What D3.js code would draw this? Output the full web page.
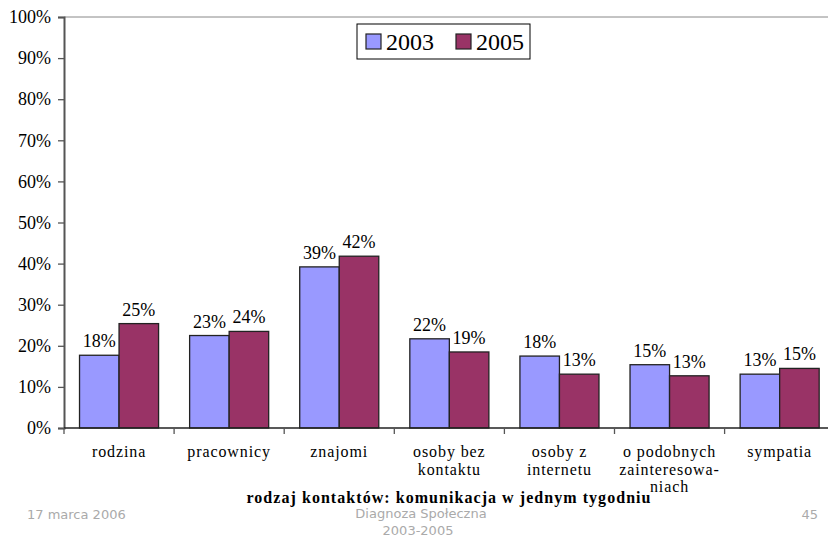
<!DOCTYPE html>
<html><head><meta charset="utf-8">
<script src="https://cdn.jsdelivr.net/npm/d3@7"></script>
<style>body{margin:0;background:#fff}svg{display:block}</style>
</head><body><svg id="c" width="828" height="537"></svg>
<script>
const categories = ["rodzina","pracownicy","znajomi","osoby bez\nkontaktu","osoby z\ninternetu","o podobnych\nzainteresowa-\nniach","sympatia"];
const series = ["2003","2005"];
const values2003 = [17.7, 22.5, 39.2, 21.7, 17.5, 15.4, 13.1];
const values2005 = [25.4, 23.5, 41.8, 18.5, 13.1, 12.7, 14.5];
const yTicks = [0,10,20,30,40,50,60,70,80,90,100];
const colors = ["#9999FF","#993366"];

const SERIF = "'Liberation Serif','Times New Roman',Times,serif";
const svg = d3.select("#c");
const pLeft = 64, pTop = 17, pBottom = 428, catW = 110.1;
const x = d3.scaleBand().domain(categories).range([pLeft, pLeft + catW*categories.length]).paddingInner(0.282).paddingOuter(0.141);
const xs = d3.scaleBand().domain(series).range([0, x.bandwidth()]);
const y = d3.scaleLinear().domain([0,100]).range([pBottom, pTop]);
const data = categories.map((c,i)=>({c, v:[values2003[i], values2005[i]]}));

// top border line
svg.append("line").attr("x1",pLeft).attr("x2",828).attr("y1",y(100)).attr("y2",y(100)).attr("stroke","#888").attr("stroke-width",1);

// bars
const g = svg.append("g");
data.forEach(d=>{
  series.forEach((s,j)=>{
    g.append("rect").attr("x",x(d.c)+xs(s)).attr("y",y(d.v[j])).attr("width",xs.bandwidth()).attr("height",y(0)-y(d.v[j]))
     .attr("fill",colors[j]).attr("stroke","#222").attr("stroke-width",1.3);
    g.append("text").attr("x",x(d.c)+xs(s)+xs.bandwidth()/2).attr("y",y(d.v[j])-8).attr("text-anchor","middle")
     .style("font-family",SERIF).style("font-size","18px").attr("fill","#000").text(Math.round(d.v[j])+"%");
  });
});

// y axis
const ya = svg.append("g").attr("transform",`translate(${pLeft},0)`).call(d3.axisLeft(y).tickValues(yTicks).tickSize(6).tickPadding(7).tickFormat(d=>d+"%"));
ya.attr("font-family",null).attr("font-size",null);
ya.select(".domain").attr("stroke","#555").attr("stroke-width",2);
ya.selectAll(".tick line").attr("stroke","#555").attr("stroke-width",1.3);
ya.selectAll(".tick text").style("font-family",SERIF).style("font-size","18px").attr("fill","#000");

// x axis
svg.append("line").attr("x1",pLeft).attr("x2",828).attr("y1",pBottom).attr("y2",pBottom).attr("stroke","#222").attr("stroke-width",1.5);
const bounds = d3.range(categories.length+1).map(i=>pLeft+i*catW);
svg.selectAll(".xt").data(bounds).enter().append("line").attr("x1",d=>d).attr("x2",d=>d).attr("y1",pBottom).attr("y2",pBottom+6).attr("stroke","#555").attr("stroke-width",1.3);
categories.forEach(c=>{
  const lines = c.split("\n");
  const cx = x(c)+x.bandwidth()/2;
  const t = svg.append("text").attr("x",cx).attr("text-anchor","middle")
    .style("font-family",SERIF).style("font-size","16px").style("letter-spacing","0.9px").attr("fill","#000");
  lines.forEach((l,i)=>t.append("tspan").attr("x",cx).attr("y",457+i*17.5).text(l));
});

// axis title
svg.append("text").attr("x",449).attr("y",503).attr("text-anchor","middle").style("font-family",SERIF)
  .style("font-size","16px").style("font-weight","bold").style("letter-spacing","1.05px").text("rodzaj kontaktów: komunikacja w jednym tygodniu");

// legend
const lg = svg.append("g");
lg.append("rect").attr("x",357).attr("y",24).attr("width",173).attr("height",35).attr("fill","#fff").attr("stroke","#000").attr("stroke-width",1);
series.forEach((s,j)=>{
  const lx = 366 + j*90;
  lg.append("rect").attr("x",lx).attr("y",34).attr("width",15).attr("height",15).attr("fill",colors[j]).attr("stroke","#222").attr("stroke-width",1.2);
  lg.append("text").attr("x",lx+20).attr("y",50).style("font-family",SERIF).style("font-size","24px").text(s);
});

// footer
function ftxt(x0,y0,anchor,txt){svg.append("text").attr("x",x0).attr("y",y0).attr("text-anchor",anchor)
  .style("font-family","'DejaVu Sans',Verdana,sans-serif").style("font-size","13px").attr("fill","#aaa").text(txt);}
ftxt(27,519,"start","17 marca 2006");
ftxt(421,518,"middle","Diagnoza Społeczna");
ftxt(418,535,"middle","2003-2005");
ftxt(818,519,"end","45");
</script></body></html>
